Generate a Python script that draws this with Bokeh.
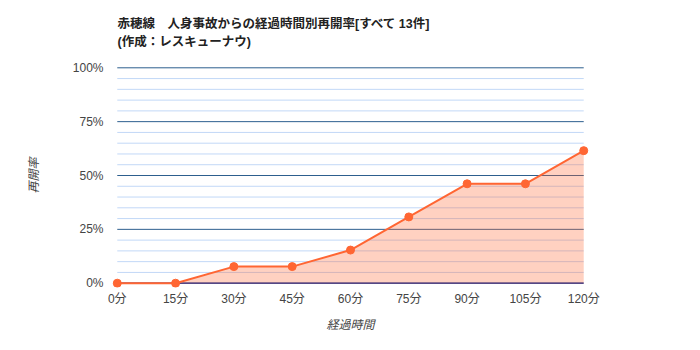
from bokeh.plotting import figure
from bokeh.models import FixedTicker, Title, Range1d, ColumnDataSource
from bokeh.embed import file_html
from bokeh.resources import INLINE

minutes = [0, 15, 30, 45, 60, 75, 90, 105, 120]
rate = [0.0, 0.0, 1/13, 1/13, 2/13, 4/13, 6/13, 6/13, 8/13]
x_ticks = [0, 15, 30, 45, 60, 75, 90, 105, 120]
x_labels = ["0分", "15分", "30分", "45分", "60分", "75分", "90分", "105分", "120分"]
y_ticks = [0, 0.25, 0.5, 0.75, 1.0]
y_labels = ["0%", "25%", "50%", "75%", "100%"]
y_minor = [i * 0.05 for i in range(21) if i % 5 != 0]

title_text = "赤穂線　人身事故からの経過時間別再開率[すべて 13件]\n(作成：レスキューナウ)"

FONT = "Arial, 'Liberation Sans', 'Noto Sans CJK JP'"
LINE = "#ff6633"

src = ColumnDataSource(dict(x=minutes, y=rate, y0=[0] * len(minutes)))

p = figure(width=700, height=350, output_backend="svg", toolbar_location=None,
           x_range=Range1d(-2, 122), y_range=Range1d(-0.02, 1.02),
           min_border_left=109, min_border_right=109, min_border_top=63, min_border_bottom=63)
p.outline_line_color = None
p.background_fill_color = "white"

t = Title(text=title_text, align="left", text_font=FONT, text_font_size="12.5px",
          text_font_style="bold", text_color="#222222", text_line_height=1.3,
          standoff=28, offset=8)
p.title = t

# axes
p.xaxis.ticker = FixedTicker(ticks=x_ticks)
p.xaxis.major_label_overrides = {tk: l for tk, l in zip(x_ticks, x_labels)}
p.yaxis.ticker = FixedTicker(ticks=y_ticks)
p.yaxis.major_label_overrides = {tk: l for tk, l in zip(y_ticks, y_labels)}
for ax in (p.xaxis, p.yaxis):
    ax.axis_line_color = None
    ax.major_tick_line_color = None
    ax.minor_tick_line_color = None
    ax.major_label_text_font = FONT
    ax.major_label_text_font_size = "12px"
    ax.major_label_text_color = "#444444"
    ax.axis_label_text_font = FONT
    ax.axis_label_text_font_size = "12px"
    ax.axis_label_text_font_style = "italic"
    ax.axis_label_text_color = "#444444"
p.xaxis.axis_label = "経過時間"
p.yaxis.axis_label = "再開率"
p.xaxis.major_label_standoff = -2
p.yaxis.major_label_standoff = 0
p.xaxis.axis_label_standoff = 9
p.yaxis.axis_label_standoff = 29

p.xgrid.grid_line_color = None
p.ygrid.grid_line_color = None

# gridlines drawn only across the data span
p.segment(x0=0, x1=120, y0=y_minor, y1=y_minor, line_color="#c2d8f7", line_width=1)
p.segment(x0=0, x1=120, y0=y_ticks[1:], y1=y_ticks[1:], line_color="#2d5f8e", line_width=1)

p.varea(x="x", y1="y0", y2="y", source=src, fill_color=LINE, fill_alpha=0.3)
p.segment(x0=0, x1=120, y0=[0], y1=[0], line_color="#1b0e63", line_width=1.2)
p.line(x="x", y="y", source=src, line_color=LINE, line_width=2)
p.scatter(x="x", y="y", source=src, size=8, fill_color=LINE, line_color=LINE)

open("out.html", "w").write(file_html(p, INLINE))
